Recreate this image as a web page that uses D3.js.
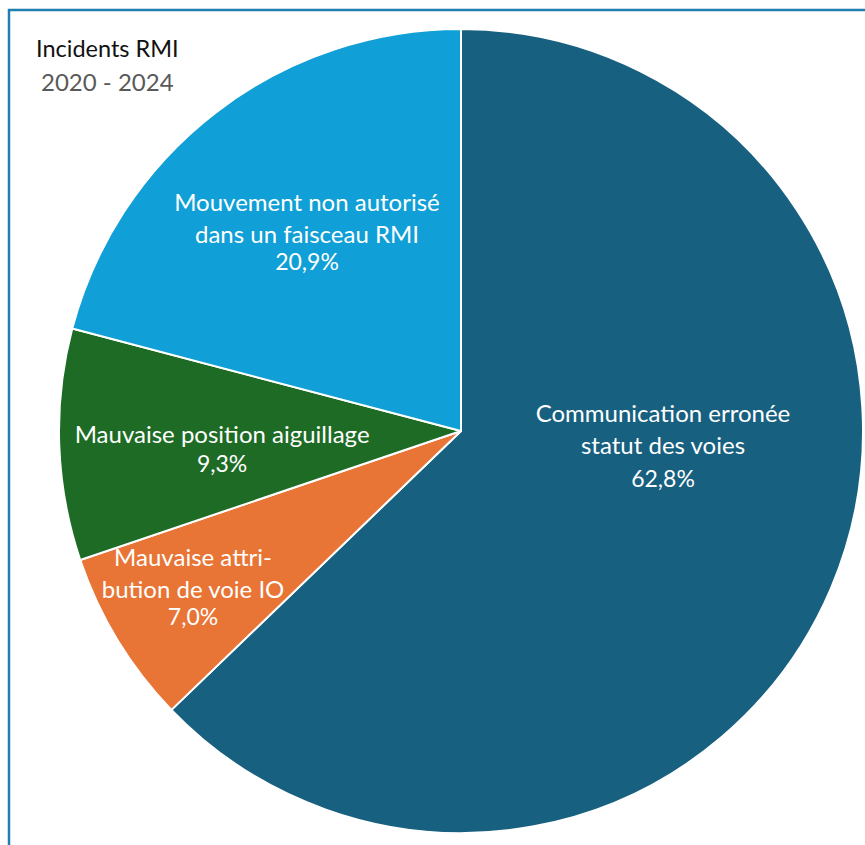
<!DOCTYPE html>
<html><head><meta charset="utf-8">
<script src="https://cdn.jsdelivr.net/npm/d3@7"></script>
<style>html,body{margin:0;padding:0;background:#fff;overflow:hidden}</style>
</head><body>
<svg id="chart" width="865" height="845"></svg>
<script>
// Data
const categories = ["Communication erronée statut des voies", "Mauvaise attribution de voie IO", "Mauvaise position aiguillage", "Mouvement non autorisé dans un faisceau RMI"];
const values = [62.8, 7.0, 9.3, 20.9];
const labelLines = [
  ["Communication erronée", "statut des voies"],
  ["Mauvaise attri-", "bution de voie IO"],
  ["Mauvaise position aiguillage"],
  ["Mouvement non autorisé", "dans un faisceau RMI"]
];
const titleLines = ["Incidents RMI", "2020 - 2024"];

// Layout / style
const colors = ["#17607f", "#e87435", "#1e6b25", "#109fd6"];
const cx = 461, cy = 431, R = 402;
// first-baseline anchor: radius fraction and angle offset (deg) from mid-angle; gap before percentage line
const labelLayout = [
  {rf: 0.503, da: -25.6, pctGap: 33},
  {rf: 0.7465, da: 4.57, pctGap: 27},
  {rf: 0.595, da: -0.9, pctGap: 29},
  {rf: 0.668, da: 2.62, pctGap: 27}
];
const FONT = "Lato, 'Open Sans', sans-serif";
const lineH = 32;

const svg = d3.select("#chart");
// frame
svg.append("rect").attr("x", 9).attr("y", 10).attr("width", 900).attr("height", 900)
  .attr("fill", "none").attr("stroke", "#1f7fae").attr("stroke-width", 2.5);

const pie = d3.pie().sort(null).value(d => d)(values);
const arc = d3.arc().innerRadius(0).outerRadius(R);
const g = svg.append("g").attr("transform", `translate(${cx},${cy})`);
g.selectAll("path").data(pie).join("path")
  .attr("d", arc).attr("fill", (d, i) => colors[i])
  .attr("stroke", "#fff").attr("stroke-width", 2).attr("stroke-linejoin", "round");

const fmt = v => d3.format(".1f")(v).replace(".", ",") + "%";
pie.forEach((d, i) => {
  const L = labelLayout[i];
  const a = (d.startAngle + d.endAngle) / 2 + L.da * Math.PI / 180;
  const r = R * L.rf;
  const x = r * Math.sin(a), y = -r * Math.cos(a);
  let yy = y;
  labelLines[i].forEach((s, k) => {
    if (k > 0) yy += lineH;
    g.append("text").attr("text-anchor", "middle")
      .attr("font-family", FONT).attr("font-size", 24).attr("fill", "#fff")
      .attr("x", x).attr("y", yy).text(s);
  });
  g.append("text").attr("text-anchor", "middle")
    .attr("font-family", FONT).attr("font-size", 23).attr("fill", "#fff")
    .attr("x", x).attr("y", yy + L.pctGap).text(fmt(values[i]));
});

svg.append("text").attr("x", 36).attr("y", 57).attr("font-family", FONT)
  .attr("font-size", 23.5).attr("fill", "#111").text(titleLines[0]);
svg.append("text").attr("x", 41).attr("y", 91).attr("font-family", FONT)
  .attr("font-size", 24).attr("fill", "#595959").text(titleLines[1]);
</script>
</body></html>
